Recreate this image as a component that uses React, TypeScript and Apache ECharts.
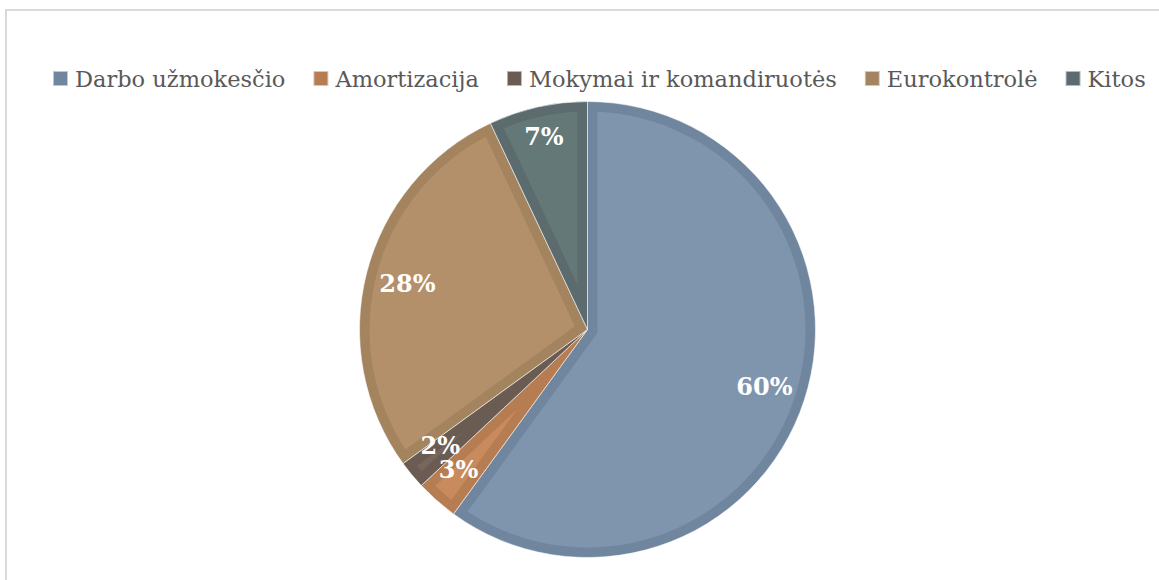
import React, { useEffect, useRef } from "react";
import * as echarts from "echarts";

const categories = ["Darbo užmokesčio", "Amortizacija", "Mokymai ir komandiruotės", "Eurokontrolė", "Kitos"];
const values = [60, 3, 2, 28, 7];
const darkColors = ["#70869f", "#b77d52", "#6b5c53", "#a4835f", "#5b6b6e"];
const lightColors = ["#7f95ad", "#c98b5e", "#76665c", "#b38f6a", "#657878"];

const CX = 587.5;
const CY = 329.5;
const R = 228;
const BAND = 10;

export default function App() {
  const ref = useRef<HTMLDivElement>(null);
  useEffect(() => {
    document.body.style.margin = "0";
    const chart = echarts.init(ref.current!, undefined, { renderer: "svg" });
    const total = values.reduce((a, b) => a + b, 0);
    const pt = (r: number, a: number) => [CX + r * Math.sin(a), CY - r * Math.cos(a)];

    const renderItem = (params: any, api: any) => {
      const idx = params.dataIndex;
      let start = 0;
      for (let i = 0; i < idx; i++) start += values[i];
      const a0 = (start / total) * Math.PI * 2;
      const a1 = ((start + values[idx]) / total) * Math.PI * 2;
      const th = (a1 - a0) / 2;
      const m = a0 + th;
      const Rp = R - BAND;
      const vd = BAND / Math.sin(th);
      if (vd >= Rp) return { type: "group", children: [] };
      const d = Math.asin(BAND / Rp);
      const pts: number[][] = [pt(vd, m)];
      const s0 = a0 + d;
      const s1 = a1 - d;
      const n = 80;
      for (let k = 0; k <= n; k++) {
        pts.push(pt(Rp, s0 + ((s1 - s0) * k) / n));
      }
      return {
        type: "polygon",
        shape: { points: pts },
        style: { fill: lightColors[idx], stroke: null },
        silent: true,
      };
    };

    chart.setOption({
      animation: false,
      color: darkColors,
      graphic: [
        {
          type: "rect",
          shape: { x: 6, y: 10, width: 1200, height: 700 },
          style: { fill: "none", stroke: "#d9d9d9", lineWidth: 2 },
          silent: true,
          z: -10,
        },
      ],
      legend: {
        data: categories,
        top: 62,
        left: 47,
        icon: "rect",
        itemWidth: 15,
        itemHeight: 15,
        itemGap: 27,
        textStyle: { fontFamily: "DejaVu Serif", fontSize: 22.5, color: "#595959", padding: [0, 0, 0, 2] },
        selectedMode: false,
      },
      series: [
        {
          type: "pie",
          name: "base",
          center: [CX, CY],
          radius: [0, R],
          startAngle: 90,
          clockwise: true,
          z: 1,
          silent: true,
          label: { show: false },
          labelLine: { show: false },
          itemStyle: { borderColor: "rgba(255,255,255,0.55)", borderWidth: 1 },
          data: categories.map((c, i) => ({ name: c, value: values[i], itemStyle: { color: darkColors[i] } })),
        },
        {
          type: "custom",
          coordinateSystem: "none",
          z: 2,
          silent: true,
          renderItem,
          data: values.map((v, i) => [i, v]),
        },
        {
          type: "pie",
          name: "labels",
          center: [CX, CY],
          radius: [138, R],
          startAngle: 90,
          clockwise: true,
          z: 3,
          silent: true,
          avoidLabelOverlap: false,
          labelLayout: { hideOverlap: false },
          itemStyle: { color: "transparent", borderWidth: 0 },
          label: {
            show: true,
            position: "inside",
            formatter: "{d}%",
            fontFamily: "DejaVu Serif",
            fontWeight: "bold",
            fontSize: 24,
            lineHeight: 20,
            color: "#ffffff",
          },
          labelLine: { show: false },
          data: categories.map((c, i) => ({
            name: c,
            value: values[i],
            label:
              i === 4
                ? { offset: [-3, -11] }
                : i === 1
                ? { offset: [-6, 0] }
                : i === 2
                ? { offset: [-4, -3] }
                : {},
          })),
        },
      ],
    });
    return () => chart.dispose();
  }, []);
  return <div ref={ref} style={{ width: 1159, height: 580 }} />;
}
